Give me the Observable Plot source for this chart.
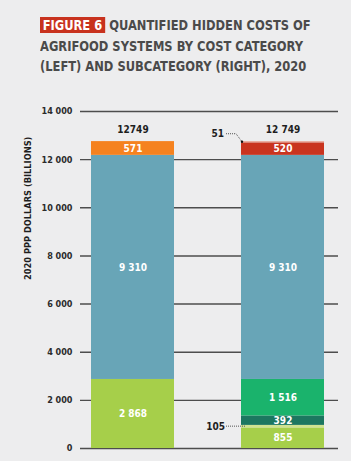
<!DOCTYPE html>
<html><head><meta charset="utf-8">
<script src="https://cdn.jsdelivr.net/npm/d3@7"></script>
<script src="https://cdn.jsdelivr.net/npm/@observablehq/plot@0.6"></script>
<style>
body{margin:0;background:#ededee;width:351px;height:461px;overflow:hidden;font-family:"Liberation Sans Narrow","DejaVu Sans Condensed",sans-serif;}
#title{position:absolute;left:40px;top:15px;font-weight:bold;font-size:14.5px;line-height:20.5px;color:#4a4a4a;white-space:nowrap;transform-origin:0 0;}
#title div{display:inline-block;}
.fig{background:#c8321e;color:#fff;padding:0 3px;margin-right:5px;}
#chart{position:absolute;left:0;top:85px;}
</style></head>
<body>
<div id="title"><div><span class="fig">FIGURE 6</span>QUANTIFIED HIDDEN COSTS OF</div><br><div id="l2">AGRIFOOD SYSTEMS BY COST CATEGORY</div><br><div>(LEFT) AND SUBCATEGORY (RIGHT), 2020</div></div>
<div id="chart"></div>
<script>
const bars = ["Cost category", "Subcategory"];
const leftNames = ["Environmental", "Health", "Social"];
const leftValues = [2868, 9310, 571];
const leftColors = ["#a6cf4a", "#68a5b7", "#f5821f"];
const leftLabels = ["2 868", "9 310", "571"];
const rightNames = ["Nitrogen", "Water", "Land use", "GHG emissions", "Health", "Poverty", "Undernourishment"];
const rightValues = [855, 105, 392, 1516, 9310, 520, 51];
const rightColors = ["#a6cf4a", "#cfe391", "#1c7760", "#1ab36c", "#68a5b7", "#c9341f", "#e9a899"];
const rightLabels = ["855", null, "392", "1 516", "9 310", "520", null];
const totals = [12749, 12749];
const totalLabels = ["12749", "12 749"];
const yTicks = [0, 2000, 4000, 6000, 8000, 10000, 12000, 14000];
const tickLabels = ["0", "2 000", "4 000", "6 000", "8 000", "10 000", "12 000", "14 000"];
const yTitle = "2020 PPP DOLLARS (BILLIONS)";
const noteWater = {value: 105, text: "105", base: 855};
const noteUnder = {value: 51, text: "51", base: 12698};

// fit the title to the reference width (condensed face)
const title = document.getElementById("title");
const w2 = document.getElementById("l2").getBoundingClientRect().width;
title.style.transform = `scaleX(${263 / w2})`;

const rows = [
  ...leftNames.map((n, i) => ({bar: bars[0], name: n, value: leftValues[i], color: leftColors[i], label: leftLabels[i]})),
  ...rightNames.map((n, i) => ({bar: bars[1], name: n, value: rightValues[i], color: rightColors[i], label: rightLabels[i]}))
];
const font = '"Liberation Sans Narrow","DejaVu Sans Condensed",sans-serif';
const noteStyle = {x: () => bars[1], y: d => d.base + d.value / 2, text: "text", textAnchor: "end", fontSize: 10, fontWeight: "bold", fill: "#1e1e1e"};

const chart = Plot.plot({
  width: 351, height: 376,
  marginTop: 26, marginBottom: 13, marginLeft: 80, marginRight: 13,
  style: {background: "transparent", fontFamily: font},
  x: {type: "band", domain: bars, range: [57.5, 357.5], paddingInner: 0.447, paddingOuter: 0.2235, axis: null},
  y: {domain: [0, 14000], axis: null},
  marks: [
    Plot.gridY(yTicks, {stroke: "#4d4d4d", strokeOpacity: 1, strokeWidth: 1.4}),
    Plot.axisY(yTicks, {tickSize: 0, tickPadding: 8, tickFormat: (d, i) => tickLabels[i], fontSize: 9, fontWeight: "bold", fill: "#2b2b2b", label: null}),
    Plot.text([yTitle], {frameAnchor: "left", rotate: -90, dx: -52, fontSize: 9.2, fontWeight: "bold", fill: "#1e1e1e"}),
    Plot.barY(rows, {x: "bar", y: "value", fill: "color"}),
    Plot.text(rows, Plot.stackY({x: "bar", y: "value", text: "label", fill: "white", fontSize: 10, fontWeight: "bold"})),
    Plot.text(bars, {x: d => d, y: (d, i) => totals[i], text: (d, i) => totalLabels[i], dy: -12, fontSize: 10, fontWeight: "bold", fill: "#1e1e1e"}),
    Plot.text([noteWater], {...noteStyle, dx: -58}),
    Plot.text([noteUnder], {...noteStyle, dx: -59, dy: -8})
  ]
});
document.getElementById("chart").appendChild(chart);

// leader lines positioned through the plot's scales
const xs = chart.scale("x"), ys = chart.scale("y");
const x0 = xs.apply(bars[1]);
const svg = d3.select(chart);
const g = svg.append("g").attr("fill", "none").attr("stroke", "#555").attr("stroke-width", 1).attr("stroke-dasharray", "1,1");
const yW = ys.apply(noteWater.base + noteWater.value / 2);
g.append("path").attr("d", `M${x0 - 15},${yW}H${x0 + 5}`);
const yU = ys.apply(noteUnder.base + noteUnder.value / 2);
g.append("path").attr("d", `M${x0 - 15},${yU - 8}H${x0 - 5}L${x0 + 1},${yU}`);
svg.append("circle").attr("cx", x0 + 1).attr("cy", yU).attr("r", 1.2).attr("fill", "#111");
</script>
</body></html>
